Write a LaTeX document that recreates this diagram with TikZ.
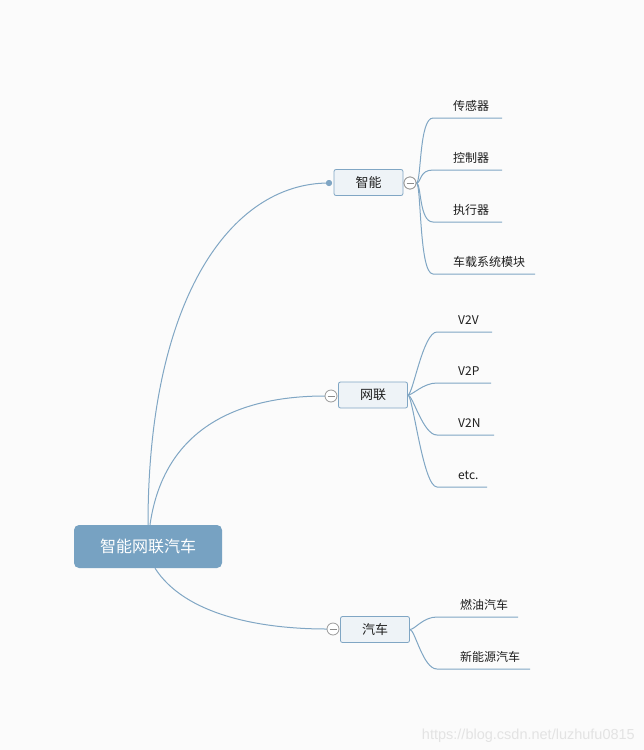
\documentclass[tikz,border=0pt]{standalone}
\usepackage{fontspec}
\setmainfont{Noto Sans CJK SC}
\newfontfamily\wmfont{Liberation Sans}
\usetikzlibrary{calc}
\definecolor{lineblue}{RGB}{128,166,196}
\definecolor{rootfill}{RGB}{119,162,194}
\definecolor{boxfill}{RGB}{238,243,247}
\definecolor{bgcol}{RGB}{251,251,251}
\definecolor{txt}{RGB}{30,30,30}
\newcommand{\mmleaf}[7]{%
  \coordinate (#2s) at (#4,#3);
  \coordinate (#2e) at (#5,#3);
  \node[leaftext] (#2) at (#6,#3-8) {#7};
  \draw[conn] (#1) .. controls ($(#1)+(5,0)$) and ($(#2s)+(-14,0)$) .. (#2s) -- (#2e);
}
\begin{document}
\begin{tikzpicture}[x=1pt,y=-1pt,
  root/.style={fill=rootfill, rounded corners=5pt, minimum width=148pt, minimum height=43pt, text=white, font=\fontsize{16}{18}\selectfont, inner sep=0},
  topic/.style={draw=lineblue, fill=boxfill, rounded corners=2pt, minimum width=69pt, minimum height=26pt, text=txt, font=\fontsize{13}{15}\selectfont, inner sep=0, line width=0.8pt},
  leaftext/.style={anchor=base west, text=txt, font=\fontsize{12}{14}\selectfont, inner sep=0},
  conn/.style={draw=lineblue, line width=1pt},
  collapse/.style={circle, draw=gray!80, fill=white, minimum size=12pt, inner sep=0, line width=0.8pt,
    path picture={\draw[gray!90, line width=0.8pt] ([xshift=-3.5pt]path picture bounding box.center) -- ([xshift=3.5pt]path picture bounding box.center);}},
  dotstyle/.style={circle, fill=lineblue, minimum size=6pt, inner sep=0}
]
\fill[bgcol] (0,0) rectangle (644,750);
\useasboundingbox (0,0) rectangle (644,750);

% main nodes
\node[root] (r) at (148,546.5) {智能网联汽车};
\node[topic] (z) at (368.5,182.5) {智能};
\node[topic] (w) at (373,395) {网联};
\node[topic] (q) at (375,629.5) {汽车};
\node[dotstyle] (zd) at (329,183) {};

% root connectors
\draw[conn] (r.north) .. controls (148,300) and (230,183) .. (zd.center);
\draw[conn] ([xshift=2pt]r.north) .. controls (165,420) and (250,396) .. (325,396) coordinate (wcin);
\draw[conn] ([xshift=7pt]r.south) .. controls (185,615) and (260,629) .. (327,629) coordinate (qcin);
\node[dotstyle] at (zd) {};

% collapse markers
\node[collapse] (zc) at (410,183) {};

% leaves of 智能
\mmleaf{zc.east}{a1}{118}{433}{502}{453}{传感器}
\mmleaf{zc.east}{a2}{170}{433}{502}{453}{控制器}
\mmleaf{zc.east}{a3}{222}{433}{502}{453}{执行器}
\mmleaf{zc.east}{a4}{274}{433}{535}{453}{车载系统模块}
\node[collapse] at (zc) {};

% leaves of 网联
\mmleaf{w.east}{b1}{332}{437}{492}{458}{V2V}
\mmleaf{w.east}{b2}{383}{437}{491}{458}{V2P}
\mmleaf{w.east}{b3}{435}{437}{494}{458}{V2N}
\mmleaf{w.east}{b4}{487}{437}{487}{458}{etc.}
\node[collapse] (wc) at (331,396) {};

% leaves of 汽车
\mmleaf{q.east}{c1}{617}{437}{518}{460}{燃油汽车}
\mmleaf{q.east}{c2}{669}{437}{530}{460}{新能源汽车}
\node[collapse] (qc) at (333,629) {};

% watermark
\node[anchor=base east, inner sep=0, text=gray!22, font=\wmfont\fontsize{14.5}{16}\selectfont] (wm) at (635,739) {https://blog.csdn.net/luzhufu0815};
\end{tikzpicture}
\end{document}
